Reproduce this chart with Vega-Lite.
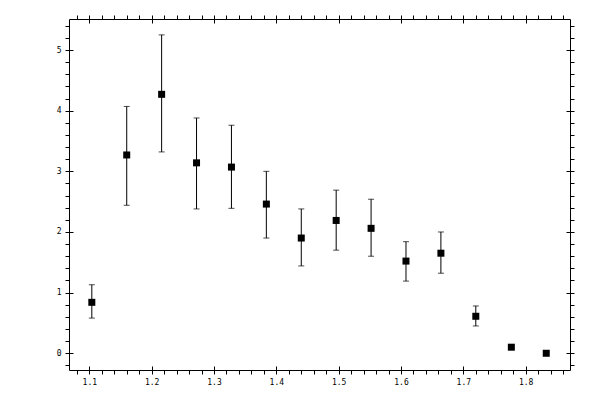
{
  "$schema": "https://vega.github.io/schema/vega-lite/v6.json",
  "width": 501,
  "height": 351,
  "autosize": {"type": "none"},
  "padding": {"left": 69, "top": 19, "right": 30, "bottom": 30},
  "background": "white",
  "data": {
    "values": [
      {"x": 1.104, "y": 0.84, "lo": 0.58, "hi": 1.13},
      {"x": 1.160, "y": 3.27, "lo": 2.44, "hi": 4.07},
      {"x": 1.216, "y": 4.27, "lo": 3.32, "hi": 5.25},
      {"x": 1.272, "y": 3.14, "lo": 2.38, "hi": 3.88},
      {"x": 1.328, "y": 3.07, "lo": 2.39, "hi": 3.76},
      {"x": 1.384, "y": 2.46, "lo": 1.90, "hi": 3.00},
      {"x": 1.440, "y": 1.90, "lo": 1.44, "hi": 2.38},
      {"x": 1.496, "y": 2.19, "lo": 1.70, "hi": 2.69},
      {"x": 1.552, "y": 2.06, "lo": 1.60, "hi": 2.54},
      {"x": 1.608, "y": 1.52, "lo": 1.19, "hi": 1.84},
      {"x": 1.664, "y": 1.65, "lo": 1.32, "hi": 2.00},
      {"x": 1.720, "y": 0.61, "lo": 0.45, "hi": 0.78},
      {"x": 1.777, "y": 0.10, "lo": null, "hi": null},
      {"x": 1.833, "y": 0.00, "lo": null, "hi": null}
    ]
  },
  "resolve": {"axis": {"x": "independent", "y": "independent"}},
  "layer": [
    {
      "mark": {"type": "rule", "color": "black", "strokeWidth": 1},
      "encoding": {
        "x": {
          "field": "x", "type": "quantitative",
          "scale": {"domain": [1.0674, 1.8711], "nice": false, "zero": false},
          "axis": {
            "orient": "bottom", "title": null, "grid": false,
            "values": [1.08,1.10,1.12,1.14,1.16,1.18,1.20,1.22,1.24,1.26,1.28,1.30,1.32,1.34,1.36,1.38,1.40,1.42,1.44,1.46,1.48,1.50,1.52,1.54,1.56,1.58,1.60,1.62,1.64,1.66,1.68,1.70,1.72,1.74,1.76,1.78,1.80,1.82,1.84,1.86],
            "format": ".2f",
            "labelExpr": "slice(datum.label, -1) == '0' ? slice(datum.label, 0, -1) : ''",
            "tickSize": 4, "labelPadding": 4
          }
        },
        "y": {
          "field": "lo", "type": "quantitative",
          "scale": {"domain": [-0.276, 5.512], "nice": false, "zero": false},
          "axis": {
            "orient": "left", "title": null, "grid": false,
            "values": [-0.2,0,0.2,0.4,0.6,0.8,1,1.2,1.4,1.6,1.8,2,2.2,2.4,2.6,2.8,3,3.2,3.4,3.6,3.8,4,4.2,4.4,4.6,4.8,5,5.2,5.4],
            "format": ".1f",
            "labelExpr": "slice(datum.label, -2) == '.0' ? slice(datum.label, 0, -2) : ''",
            "tickSize": 4, "labelPadding": 4
          }
        },
        "y2": {"field": "hi"}
      }
    },
    {
      "mark": {"type": "tick", "orient": "horizontal", "color": "black", "size": 6, "thickness": 1},
      "encoding": {
        "x": {
          "field": "x", "type": "quantitative",
          "scale": {"domain": [1.0674, 1.8711], "nice": false, "zero": false},
          "axis": {
            "orient": "bottom", "title": null, "grid": false, "labels": false, "domain": false,
            "values": [1.1,1.2,1.3,1.4,1.5,1.6,1.7,1.8],
            "tickSize": -4
          }
        },
        "y": {
          "field": "hi", "type": "quantitative",
          "scale": {"domain": [-0.276, 5.512], "nice": false, "zero": false},
          "axis": {
            "orient": "left", "title": null, "grid": false, "labels": false, "domain": false,
            "values": [0,1,2,3,4,5],
            "tickSize": -4
          }
        }
      }
    },
    {
      "mark": {"type": "tick", "orient": "horizontal", "color": "black", "size": 6, "thickness": 1},
      "encoding": {
        "x": {
          "field": "x", "type": "quantitative",
          "scale": {"domain": [1.0674, 1.8711], "nice": false, "zero": false},
          "axis": {
            "orient": "top", "title": null, "grid": false, "labels": false,
            "values": [1.08,1.10,1.12,1.14,1.16,1.18,1.20,1.22,1.24,1.26,1.28,1.30,1.32,1.34,1.36,1.38,1.40,1.42,1.44,1.46,1.48,1.50,1.52,1.54,1.56,1.58,1.60,1.62,1.64,1.66,1.68,1.70,1.72,1.74,1.76,1.78,1.80,1.82,1.84,1.86],
            "tickSize": 4
          }
        },
        "y": {
          "field": "lo", "type": "quantitative",
          "scale": {"domain": [-0.276, 5.512], "nice": false, "zero": false},
          "axis": {
            "orient": "right", "title": null, "grid": false, "labels": false,
            "values": [-0.2,0,0.2,0.4,0.6,0.8,1,1.2,1.4,1.6,1.8,2,2.2,2.4,2.6,2.8,3,3.2,3.4,3.6,3.8,4,4.2,4.4,4.6,4.8,5,5.2,5.4],
            "tickSize": 4
          }
        }
      }
    },
    {
      "mark": {"type": "square", "color": "black", "filled": true, "opacity": 1, "size": 49},
      "encoding": {
        "x": {
          "field": "x", "type": "quantitative",
          "scale": {"domain": [1.0674, 1.8711], "nice": false, "zero": false},
          "axis": {
            "orient": "top", "title": null, "grid": false, "labels": false, "domain": false,
            "values": [1.1,1.2,1.3,1.4,1.5,1.6,1.7,1.8],
            "tickSize": -4
          }
        },
        "y": {
          "field": "y", "type": "quantitative",
          "scale": {"domain": [-0.276, 5.512], "nice": false, "zero": false},
          "axis": {
            "orient": "right", "title": null, "grid": false, "labels": false, "domain": false,
            "values": [0,1,2,3,4,5],
            "tickSize": -4
          }
        }
      }
    }
  ],
  "config": {
    "view": {"stroke": null},
    "axis": {
      "domainColor": "black",
      "domainWidth": 1,
      "tickColor": "black",
      "tickWidth": 1,
      "labelColor": "black",
      "labelFont": "DejaVu Sans Mono",
      "labelFontSize": 8
    }
  }
}
